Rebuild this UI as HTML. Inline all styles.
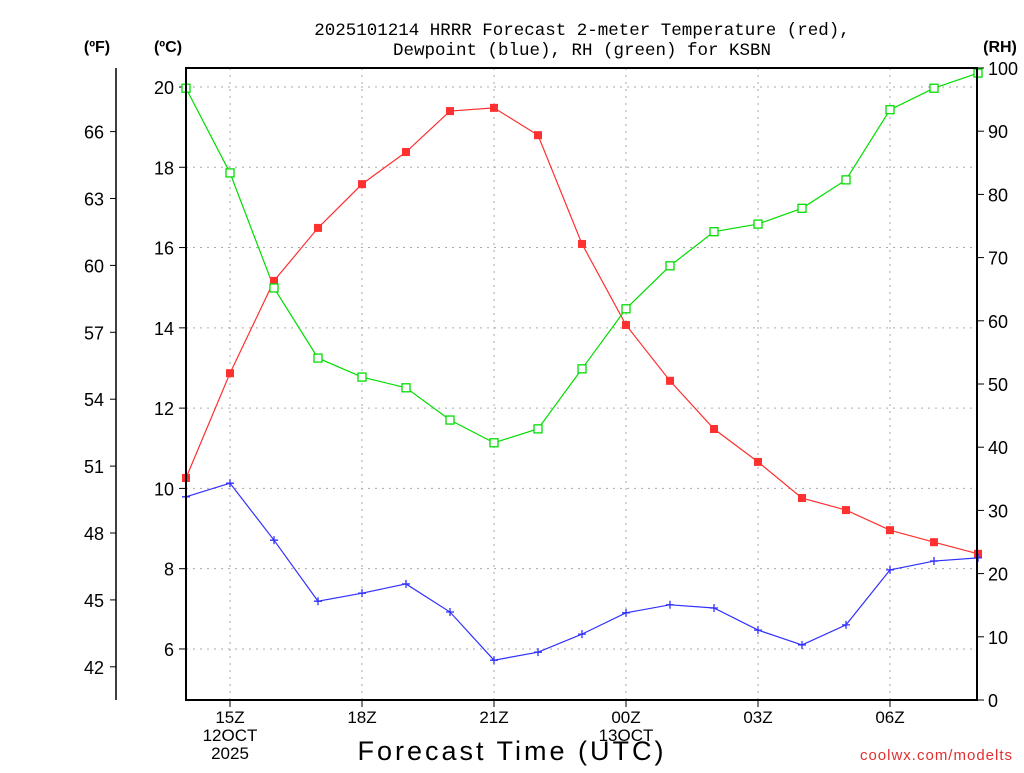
<!DOCTYPE html>
<html><head><meta charset="utf-8"><style>
body{margin:0;background:#fff;width:1024px;height:768px;overflow:hidden}
svg{font-family:"Liberation Sans",sans-serif}
</style></head><body>
<svg id="chart" width="1024" height="768">
<text x="582" y="35" font-size="17.5" font-family="Liberation Mono, monospace" text-anchor="middle">2025101214 HRRR Forecast 2-meter Temperature (red),</text>
<text x="582" y="55" font-size="17.5" font-family="Liberation Mono, monospace" text-anchor="middle">Dewpoint (blue), RH (green) for KSBN</text>
<text x="97" y="52" font-size="16" font-weight="bold" text-anchor="middle">(ºF)</text>
<text x="168" y="52" font-size="16" font-weight="bold" text-anchor="middle">(ºC)</text>
<text x="1000" y="52" font-size="16" font-weight="bold" text-anchor="middle">(RH)</text>
<text x="512" y="760" font-size="27" text-anchor="middle" letter-spacing="3">Forecast Time (UTC)</text>
<text x="1013" y="760" font-size="15" fill="#e03030" text-anchor="end" letter-spacing="1">coolwx.com/modelts</text>
<g id="grid"></g><g id="axes"></g><g id="series"></g>
<rect x="186" y="68" width="791" height="632" fill="none" stroke="#000" stroke-width="2"/>
</svg>
<script>
const hours = ["14","15","16","17","18","19","20","21","22","23","00","01","02","03","04","05","06","07","08"];
const tempC = [10.26,12.87,15.17,16.49,17.58,18.38,19.40,19.48,18.80,16.09,14.07,12.68,11.48,10.66,9.76,9.46,8.96,8.66,8.37];
const dewC = [9.79,10.13,8.71,7.19,7.39,7.62,6.92,5.72,5.92,6.37,6.90,7.10,7.02,6.47,6.10,6.60,7.97,8.19,8.27];
const rh = [96.8,83.4,65.2,54.1,51.1,49.4,44.3,40.7,42.9,52.4,61.9,68.7,74.1,75.3,77.8,82.3,93.4,96.8,99.2];
const cTicks = [6,8,10,12,14,16,18,20];
const fTicks = [42,45,48,51,54,57,60,63,66];
const rhTicks = [0,10,20,30,40,50,60,70,80,90,100];
const xLabels = [[1,"15Z","12OCT","2025"],[4,"18Z"],[7,"21Z"],[10,"00Z","13OCT"],[13,"03Z"],[16,"06Z"]];
const NS="http://www.w3.org/2000/svg";
const X=i=>186+i*44;
const YC=c=>87+(20-c)*40.14;
const YF=f=>YC((f-32)*5/9);
const YR=r=>700-r*6.32;
function mk(p,t,a){const e=document.createElementNS(NS,t);for(const k in a)e.setAttribute(k,a[k]);p.appendChild(e);return e;}
const grid=document.getElementById('grid'),axes=document.getElementById('axes'),ser=document.getElementById('series');
cTicks.forEach(c=>{
 const g=mk(grid,'line',{x1:186,x2:977,y1:YC(c),y2:YC(c),stroke:'#aaa','stroke-dasharray':'2,5'});
 
 
 mk(axes,'line',{x1:179,x2:186,y1:YC(c),y2:YC(c),stroke:'#000'});
 const t=mk(axes,'text',{x:174,y:YC(c)+7,'font-size':18,'text-anchor':'end'});t.textContent=c;
 
 
});
mk(axes,'line',{x1:116,x2:116,y1:68,y2:700,stroke:'#000','stroke-width':1.5});
fTicks.forEach(f=>{
 mk(axes,'line',{x1:110,x2:116,y1:YF(f),y2:YF(f),stroke:'#000'});
 const t=mk(axes,'text',{x:104,y:YF(f)+7,'font-size':18,'text-anchor':'end'});t.textContent=f;
 
 
});
rhTicks.forEach(r=>{
 mk(axes,'line',{x1:977,x2:984,y1:YR(r),y2:YR(r),stroke:'#000'});
 const t=mk(axes,'text',{x:988,y:YR(r)+7,'font-size':18});t.textContent=r;
 
 
});
xLabels.forEach(l=>{
 const x=X(l[0]);
 const g=mk(grid,'line',{x1:x,x2:x,y1:68,y2:700,stroke:'#aaa','stroke-dasharray':'2,5'});
 
 
 mk(axes,'line',{x1:x,x2:x,y1:700,y2:707,stroke:'#000'});
 l.slice(1).forEach((s,j)=>{const t=mk(axes,'text',{x:x,y:723+j*18,'font-size':17,'text-anchor':'middle'});t.textContent=s;
  
  });
});
function line(vals,yf,col,name){
 const p=mk(ser,'polyline',{points:vals.map((v,i)=>X(i)+','+yf(v)).join(' '),fill:'none',stroke:col,'stroke-width':1.2});
 
 
}
line(tempC,YC,'#ff3030','temperature');
line(dewC,YC,'#3030ff','dewpoint');
line(rh,YR,'#00dd00','rh');
tempC.forEach((v,i)=>{const r=mk(ser,'rect',{x:X(i)-4,y:YC(v)-4,width:8,height:8,fill:'#ff3030'});
 
 });
rh.forEach((v,i)=>{const r=mk(ser,'rect',{x:X(i)-4,y:YR(v)-4,width:8,height:8,fill:'#fff',stroke:'#00dd00','stroke-width':1.3});
 
 });
dewC.forEach((v,i)=>{const p=mk(ser,'path',{d:`M${X(i)-4},${YC(v)}h8M${X(i)},${YC(v)-4}v8`,stroke:'#3030ff','stroke-width':1.3});
 
 });
</script>
</body></html>
